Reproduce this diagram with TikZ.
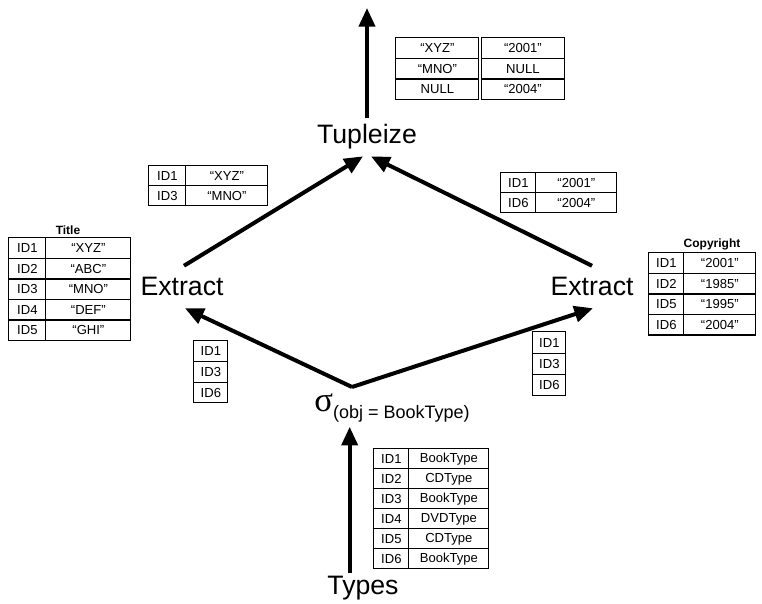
\documentclass[tikz,border=0pt]{standalone}
\usepackage{fontspec}
\setmainfont{Liberation Sans}
\newfontfamily\symfont{Liberation Serif}
\usetikzlibrary{matrix,arrows.meta,calc}

\begin{document}
\begin{tikzpicture}
  [x=0.75pt,y=-0.75pt,
   op/.style={font=\fontsize{20}{24}\selectfont,inner sep=2pt},
   flow/.style={line width=3pt,-{Triangle[length=14pt,width=12pt]}},
   tbl/.style={matrix of nodes,anchor=north west,inner sep=0pt,
     row sep=-0.9pt,column sep=-0.9pt,
     nodes={draw,line width=0.9pt,minimum height=15.4pt,inner sep=0pt,
       font=\fontsize{9.8}{10}\selectfont,anchor=center}},
   tblname/.style={font=\bfseries\fontsize{9}{10}\selectfont}]
  \useasboundingbox (0,0) rectangle (762,603);

  % operators
  \node[op] (tup) at (367,137) {Tupleize};
  \node[op] (extL) at (182,286) {Extract};
  \node[op] (extR) at (592,286) {Extract};
  \node[op] (types) at (363,588) {Types};
  \node (sel) at (392,408) {{\symfont\fontsize{26}{26}\selectfont σ}\raisebox{-5pt}{\fontsize{13.5}{14}\selectfont(obj = BookType)}};
  \coordinate (out) at (367,8);
  \coordinate (selJoin) at (352,387);

  % tables
  \matrix[tbl,column sep=1pt,nodes={minimum width=62.25pt}] (tblTup) at (395,37)
    {“XYZ” & “2001” \\ “MNO” & NULL \\ NULL & “2004” \\};
  \matrix[tbl,nodes={minimum height=15pt},column 1/.style={nodes={minimum width=27.75pt}},
    column 2/.style={nodes={minimum width=61.5pt}}] (tblTitleSel) at (148,165)
    {ID1 & “XYZ” \\ ID3 & “MNO” \\};
  \matrix[tbl,nodes={minimum height=15pt},column 1/.style={nodes={minimum width=26.25pt}},
    column 2/.style={nodes={minimum width=60.75pt}}] (tblCopySel) at (500,172)
    {ID1 & “2001” \\ ID6 & “2004” \\};
  \matrix[tbl,column 1/.style={nodes={minimum width=27.75pt}},
    column 2/.style={nodes={minimum width=63.75pt}}] (tblTitle) at (8,237)
    {ID1 & “XYZ” \\ ID2 & “ABC” \\ ID3 & “MNO” \\ ID4 & “DEF” \\ ID5 & “GHI” \\};
  \node[tblname] (titleCap) at (68,230) {Title};
  \matrix[tbl,column 1/.style={nodes={minimum width=26.25pt}},
    column 2/.style={nodes={minimum width=54pt}}] (tblCopy) at (648,252)
    {ID1 & “2001” \\ ID2 & “1985” \\ ID5 & “1995” \\ ID6 & “2004” \\};
  \node[tblname] (copyCap) at (712,244) {Copyright};
  \matrix[tbl,nodes={minimum width=25.5pt,minimum height=15.5pt}] (tblIdL) at (193,340)
    {ID1 \\ ID3 \\ ID6 \\};
  \matrix[tbl,nodes={minimum width=24.75pt,minimum height=16pt}] (tblIdR) at (532,331)
    {ID1 \\ ID3 \\ ID6 \\};
  \matrix[tbl,nodes={minimum height=15pt},column 1/.style={nodes={minimum width=26.25pt}},
    column 2/.style={nodes={minimum width=60pt}}] (tblTypes) at (373,448)
    {ID1 & BookType \\ ID2 & CDType \\ ID3 & BookType \\ ID4 & DVDType \\ ID5 & CDType \\ ID6 & BookType \\};

  % flow
  \draw[flow] ([yshift=3pt]tup.north) -- (out);
  \draw[flow] ($(extL.north)+(2,-8)$) -- ($(tup.south)+(-4,4)$);
  \draw[flow] ($(extR.north)+(0,-8)$) -- ($(tup.south)+(4,4)$);
  \draw[flow] (selJoin) -- ($(extL.south)+(3,10)$);
  \draw[flow] (selJoin) -- ($(extR.south)+(1,10)$);
  \draw[flow] ([xshift=-10pt]types.north) -- ([xshift=-10pt]types.north |- sel.south);
\end{tikzpicture}
\end{document}
